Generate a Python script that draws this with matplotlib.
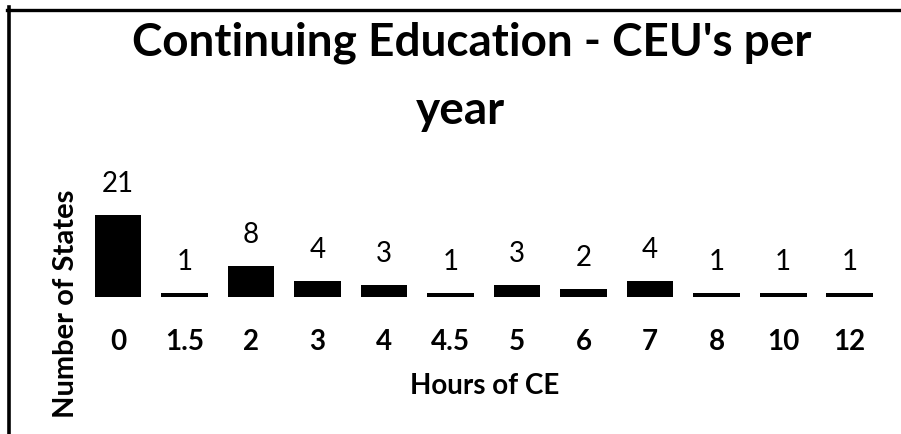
import matplotlib.pyplot as plt
from matplotlib.lines import Line2D

# hours of CE required per year, and how many states require it
hours = ['0', '1.5', '2', '3', '4', '4.5', '5', '6', '7', '8', '10', '12']
states = [21, 1, 8, 4, 3, 1, 3, 2, 4, 1, 1, 1]

W, H = 901, 434


def main():
    plt.rcParams['font.family'] = ['Lato', 'DejaVu Sans']
    fig = plt.figure(figsize=(W / 100, H / 100), dpi=100)
    fig.patch.set_facecolor('white')

    ax = fig.add_axes([84.75 / W, 1 - 297 / H, (883 - 84.75) / W, 117 / H])
    x = range(len(hours))
    bars = ax.bar(x, states, width=0.7, color='black')
    ax.bar_label(bars, labels=[str(v) for v in states], padding=13,
                 fontsize=20, color='black')
    ax.set_xlim(-0.5, len(hours) - 0.5)
    ax.set_ylim(0, 30)
    ax.set_xticks(list(x))
    ax.set_xticklabels(hours, fontsize=20, fontweight='bold')
    ax.tick_params(axis='x', length=0, pad=23)
    ax.set_yticks([])
    for s in ax.spines.values():
        s.set_visible(False)
    ax.patch.set_alpha(0)

    # title wraps onto two lines in the original
    fig.text(472 / W, 1 - 55 / H, "Continuing Education - CEU's per",
             ha='center', va='baseline', fontsize=33, fontweight='bold')
    fig.text(460 / W, 1 - 124 / H, 'year',
             ha='center', va='baseline', fontsize=33, fontweight='bold')
    fig.text(485 / W, 1 - 386 / H, 'Hours of CE', ha='center', va='center',
             fontsize=20, fontweight='bold')
    fig.text(66 / W, 1 - 304 / H, 'Number of States', ha='center',
             va='center', rotation=90, fontsize=21, fontweight='bold')

    # scanned frame: left and top edges
    fig.add_artist(Line2D([8.5 / W, 8.5 / W], [0, 1 - 7 / H],
                          transform=fig.transFigure, color='black', lw=2.6))
    fig.add_artist(Line2D([7 / W, 1], [1 - 9.5 / H, 1 - 9.5 / H],
                          transform=fig.transFigure, color='black', lw=2.4))

    fig.savefig('out.png', dpi=100)


if __name__ == '__main__':
    main()
